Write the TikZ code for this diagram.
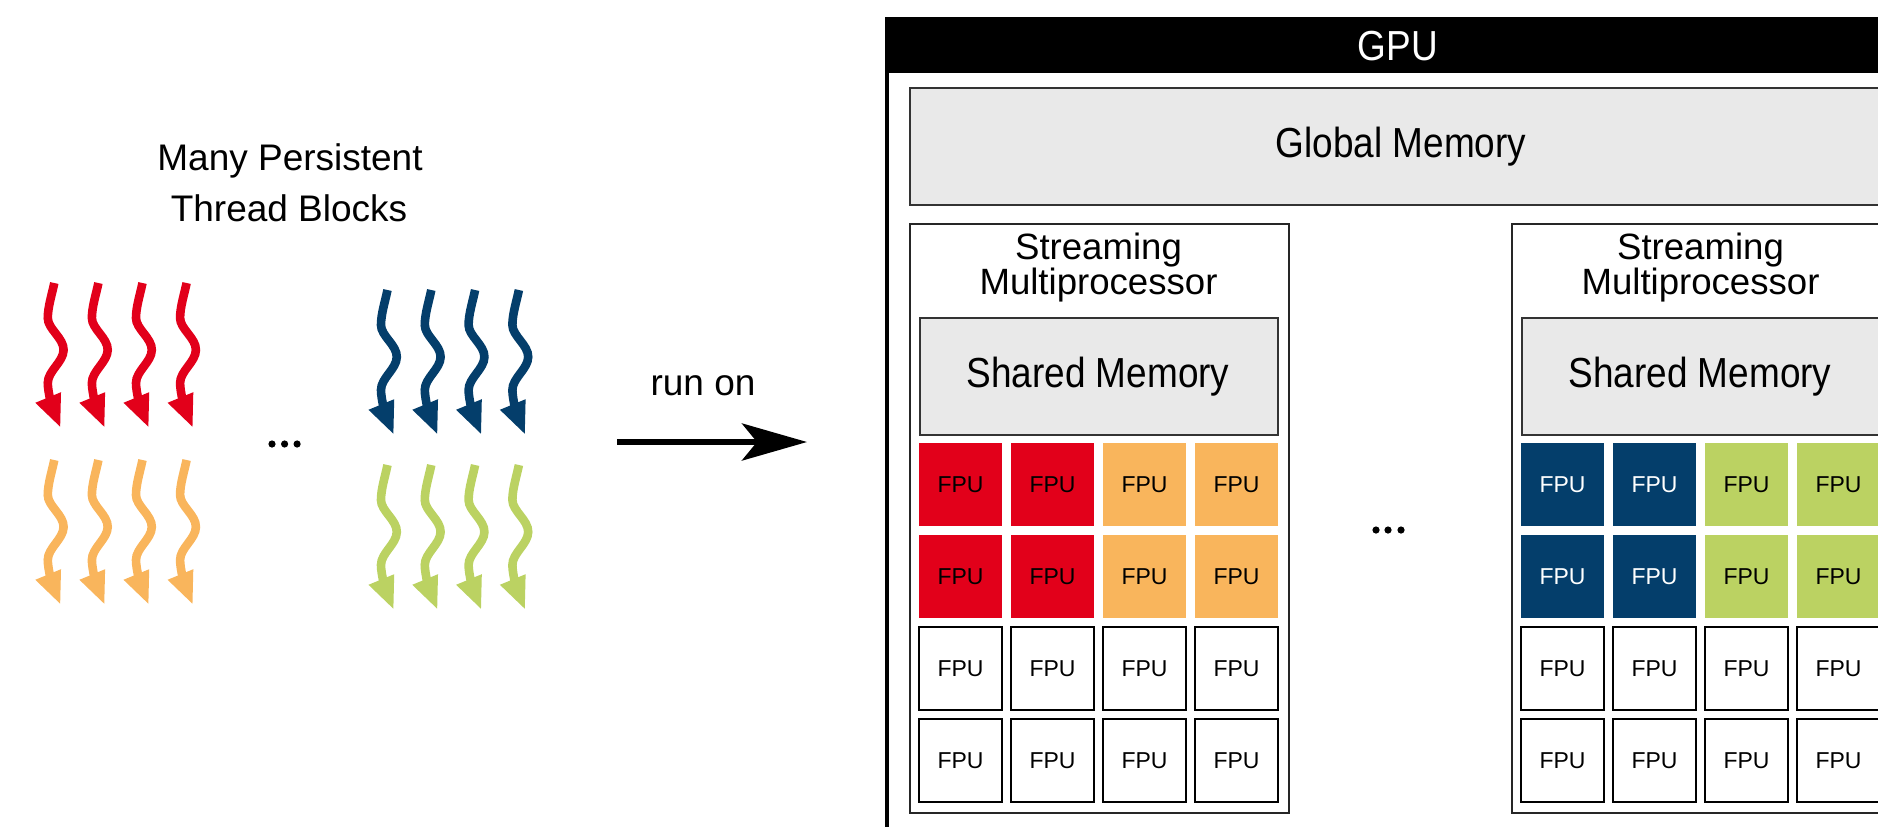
\documentclass[tikz,border=0pt]{standalone}
\usepackage{fontspec}
\setmainfont{Liberation Sans}
\newfontfamily\condf[FakeStretch=0.88]{Liberation Sans}
\usetikzlibrary{arrows.meta}
\definecolor{tred}{HTML}{E2001A}
\definecolor{torange}{HTML}{F9B55C}
\definecolor{tnavy}{HTML}{043E6B}
\definecolor{tgreen}{HTML}{BBD262}
\definecolor{memgray}{HTML}{E9E9E9}
\definecolor{edgegray}{HTML}{333333}
\newcommand\tightlines{\lineskiplimit=-20pt\relax}
\begin{document}
\begin{tikzpicture}[x=0.5pt,y=-0.5pt,
  pics/wave/.style={code={\draw[color=#1, line width=4.3pt, -{Triangle[length=16.5pt,width=12.5pt]}] (0,0) .. controls (-2.5,12) and (-6.5,24) .. (-6.5,35) .. controls (-6.5,46) and (9.5,55) .. (9.3,67) .. controls (9.1,79) and (-6.5,88) .. (-6.5,100) .. controls (-6.5,110) and (-1,127) .. (6.4,145);}},
  plain/.style={font=\fontsize{18.5pt}{22pt}\selectfont, inner sep=0},
  smtext/.style={font=\fontsize{18.3pt}{17.5pt}\selectfont\tightlines, inner sep=0, text width=170pt, align=center},
  condtext/.style={font=\condf\fontsize{21pt}{25pt}\selectfont, inner sep=0},
  box/.style={draw=edgegray, line width=1pt, inner sep=0},
  fpu/.style={minimum size=41.5pt, inner sep=0, font=\fontsize{11.5pt}{13pt}\selectfont},
  fpuw/.style={fpu, draw=black, line width=1pt, fill=white},
  dot/.style={circle, fill=black, inner sep=0, minimum size=3.6pt}
]
\useasboundingbox (0,0) rectangle (1878,826);
\clip (0,0) rectangle (1878,826);

% thread blocks
\foreach \i in {0,...,3}{
  \pic at ({54.3+44.1*\i},283) {wave=tred};
  \pic at ({54.3+44.1*\i},460) {wave=torange};
  \pic at ({387.5+43.8*\i},290) {wave=tnavy};
  \pic at ({387.5+43.8*\i},465) {wave=tgreen};
}
\node[plain, anchor=base] (t1) at (290,170) {Many Persistent};
\node[plain, anchor=base] (t2) at (289,221) {Thread Blocks};
\foreach \x [count=\k] in {272,284.6,297.1} \node[dot] (ld\k) at (\x,444) {};

% run on
\node[plain, anchor=base] (runlbl) at (703,395) {run on};
\coordinate (runA) at (617,442);
\coordinate (runB) at (807,442);
\draw[line width=3pt, -{Stealth[length=32.5pt,width=18.5pt,inset=7.5pt]}] (runA) -- (runB);

% GPU
\node[draw=black, line width=1.75pt, fill=white, anchor=north west, minimum width=513pt, minimum height=442pt, inner sep=0] (gpu) at (885,17) {};
\node[fill=black, anchor=north west, minimum width=513pt, minimum height=28pt, inner sep=0] (gpuhead) at (885,17) {};
\node[condtext, text=white, anchor=base] (gpulbl) at (1398,60) {GPU};

\node[box, fill=memgray, anchor=north west, minimum width=492pt, minimum height=58.5pt] (gm) at (909,87) {};
\node[condtext, anchor=base] (gmlbl) at (1401,157) {Global Memory};

\foreach \o/\n in {0/1,602/2}{
  \node[box, draw=black!85, fill=white, anchor=north west, minimum width=189.5pt, minimum height=294.5pt] (sm\n) at ({909+\o},223) {};
  \node[smtext, anchor=base] (smlbl\n) at ({1098.5+\o},259) {Streaming\\Multiprocessor};
  \node[box, fill=memgray, anchor=north west, minimum width=179pt, minimum height=58.5pt] (shm\n) at ({919+\o},317) {};
  \node[condtext, anchor=base] (shml\n) at ({1098+\o},387) {Shared Memory};
  \foreach \r in {2,3}{
    \foreach \c in {0,...,3}
      \node[fpuw] (f\n-\r-\c) at ({960.5+\o+92*\c},{484.5+92*\r}) {FPU};
  }
}
\foreach \r in {0,1}{
  \foreach \c in {0,1}{
    \node[fpu, fill=tred] (f1-\r-\c) at ({960.5+92*\c},{484.5+92*\r}) {FPU};
    \node[fpu, fill=tnavy, text=white] (f2-\r-\c) at ({1562.5+92*\c},{484.5+92*\r}) {FPU};
  }
  \foreach \c in {2,3}{
    \node[fpu, fill=torange] (f1-\r-\c) at ({960.5+92*\c},{484.5+92*\r}) {FPU};
    \node[fpu, fill=tgreen] (f2-\r-\c) at ({1562.5+92*\c},{484.5+92*\r}) {FPU};
  }
}
\foreach \x [count=\k] in {1376,1388,1401} \node[dot] (md\k) at (\x,530) {};
\end{tikzpicture}
\end{document}
